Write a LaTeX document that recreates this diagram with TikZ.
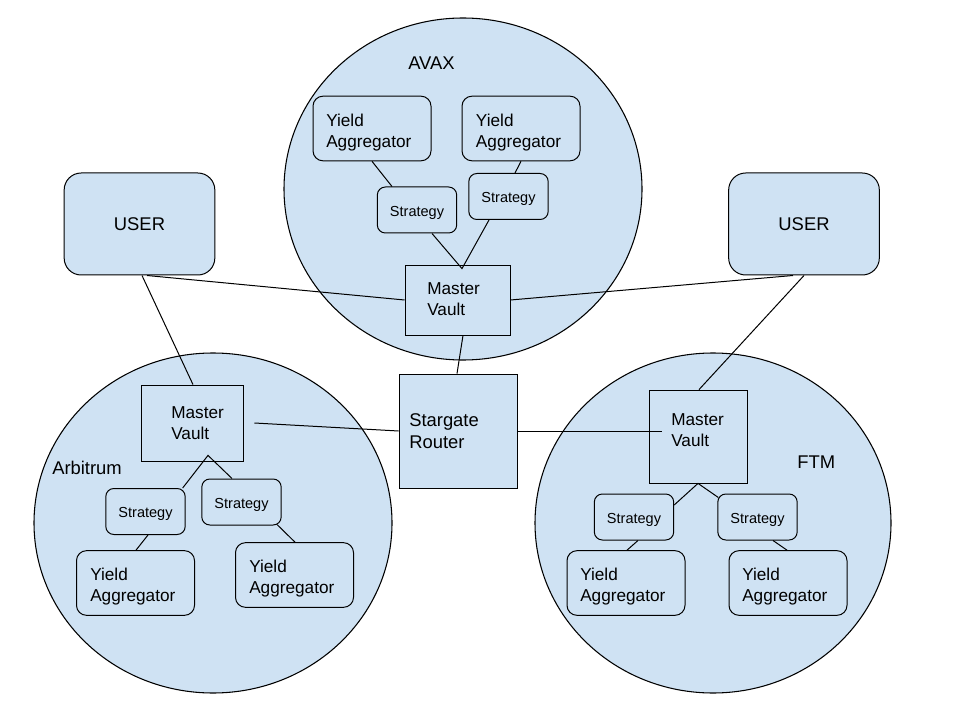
\documentclass[tikz,border=0pt]{standalone}
\usepackage{fontspec}
\setmainfont{Liberation Sans}
\usetikzlibrary{shapes.geometric,calc}
\definecolor{fillblue}{HTML}{CFE2F3}
\begin{document}
\begin{tikzpicture}[x=0.75pt,y=-0.75pt,
 zone/.style={ellipse,draw=black,fill=fillblue,line width=0.8pt,inner sep=0pt},
 plain/.style={draw=black,fill=fillblue,line width=0.75pt,inner sep=0pt},
 square/.style={plain,line width=0.6pt},
 yabox/.style={plain,rounded corners=7.5pt,minimum width=88.5pt,minimum height=48.5pt},
 stbox/.style={plain,rounded corners=6pt,minimum width=59.5pt,minimum height=34.5pt,text height=11.5pt,text depth=2.3pt,font=\fontsize{10.9pt}{13pt}\selectfont},
 userbox/.style={plain,rounded corners=12.75pt,minimum width=113pt,minimum height=76.5pt,font=\fontsize{13.8pt}{16.5pt}\selectfont},
 txt/.style={inner sep=0pt,anchor=west,align=left},
 yatxt/.style={txt,font=\fontsize{12.9pt}{15.75pt}\selectfont},
 sgtxt/.style={txt,font=\fontsize{13.8pt}{16.3pt}\selectfont},
 lbl/.style={txt,font=\fontsize{13.8pt}{16.5pt}\selectfont},
 link/.style={draw=black,line width=0.75pt}
]
\useasboundingbox (0,0) rectangle (960,720);
\fill[white] (0,0) rectangle (960,720);

% zones
\node[zone,minimum width=268.5pt,minimum height=256.5pt] (avax) at (463,189) {};
\node[zone,minimum width=268.5pt,minimum height=255pt] (arb) at (213,523) {};
\node[zone,minimum width=267pt,minimum height=255pt] (ftm) at (713,523) {};

\node[lbl] (avaxl) at (408,63.5) {AVAX};
\node[lbl] (arbl) at (52,467.5) {Arbitrum};
\node[lbl] (ftml) at (797,462) {FTM};

% users
\node[userbox] (userL) at (139.5,224) {USER};
\node[userbox] (userR) at (804,224) {USER};

% AVAX
\node[yabox] (yaA1) at (372,128.5) {};
\node[yabox] (yaA2) at (521,128.5) {};
\node[yatxt] (yaA1t) at (326,132.7) {Yield\\Aggregator};
\node[yatxt] (yaA2t) at (475.7,132.7) {Yield\\Aggregator};
\node[stbox] (stA1) at (417,210) {Strategy};
\node[stbox] (stA2) at (508.5,196.5) {Strategy};
\node[square,minimum width=78.75pt,minimum height=52.5pt] (mvA) at (457.5,300) {};
\node[yatxt] (mvAt) at (427,299.3) {Master\\Vault};

% router
\node[square,minimum width=88.5pt,minimum height=85.5pt] (sg) at (458,431) {};
\node[sgtxt] (sgt) at (409,430.8) {Stargate\\Router};

% Arbitrum
\node[square,minimum width=76.5pt,minimum height=57pt] (mvB) at (192,423) {};
\node[yatxt] (mvBt) at (171,423) {Master\\Vault};
\node[stbox] (stB1) at (145.5,511.5) {Strategy};
\node[stbox] (stB2) at (241.5,502) {Strategy};
\node[yabox] (yaB1) at (135.5,583) {};
\node[yabox] (yaB2) at (294.5,575) {};
\node[yatxt] (yaB1t) at (90,586.9) {Yield\\Aggregator};
\node[yatxt] (yaB2t) at (249,578.4) {Yield\\Aggregator};

% FTM
\node[square,minimum width=73.5pt,minimum height=69.75pt] (mvC) at (698,436.5) {};
\node[yatxt] (mvCt) at (671,430.1) {Master\\Vault};
\node[stbox] (stC1) at (634,517) {Strategy};
\node[stbox] (stC2) at (757.5,517) {Strategy};
\node[yabox] (yaC1) at (626,583) {};
\node[yabox] (yaC2) at (788,583) {};
\node[yatxt] (yaC1t) at (580,586.7) {Yield\\Aggregator};
\node[yatxt] (yaC2t) at (742,586.7) {Yield\\Aggregator};

% links AVAX
\draw[link] (yaA1.south) -- ($(stA1.north)+(-25,0)$);
\draw[link] (yaA2.south) -- ($(stA2.north)+(6.5,0)$);
\coordinate (apexA) at ($(mvA.north)+(4.5,4)$);
\draw[link] ($(stA1.south)+(15,0)$) -- (apexA) -- ($(stA2.south)+(-19.5,0)$);

% users
\draw[link] ($(userL.south)+(7.5,0)$) -- (mvA.west);
\draw[link] ($(userL.south)+(2.5,0)$) -- ($(mvB.north)+(1,0)$);
\draw[link] ($(userR.south)+(-11,0)$) -- (mvA.east);
\draw[link] (userR.south) -- ($(mvC.north)+(1,0)$);

% router
\draw[link] ($(mvA.south)+(5.5,0)$) -- ($(sg.north)+(-1,0)$);
\draw[link] (sg.west) -- ($(mvB.east)+(11,0)$);
\draw[link] (sg.east) -- ($(mvC.west)+(13,-5.5)$);

% Arbitrum
\coordinate (apexB) at ($(mvB.south)+(16,-6)$);
\draw[link] ($(stB1.north east)+(-3,0)$) -- (apexB) -- ($(stB2.north)+(-9.5,0)$);
\draw[link] ($(stB1.south)+(2.5,0)$) -- ($(yaB1.north)+(0.5,0)$);
\draw[link] ($(stB2.south)+(35.5,-1)$) -- ($(yaB2.north)+(0.5,0)$);

% FTM
\draw[link] ($(stC1.east)+(0,-12)$) -- (mvC.south) -- ($(stC2.north west)+(1,4)$);
\draw[link] ($(stC1.south)+(4,0)$) -- ($(yaC1.north)+(1,0)$);
\draw[link] ($(stC2.south)+(15.5,0)$) -- ($(yaC2.north)+(-1,0)$);
\end{tikzpicture}
\end{document}
